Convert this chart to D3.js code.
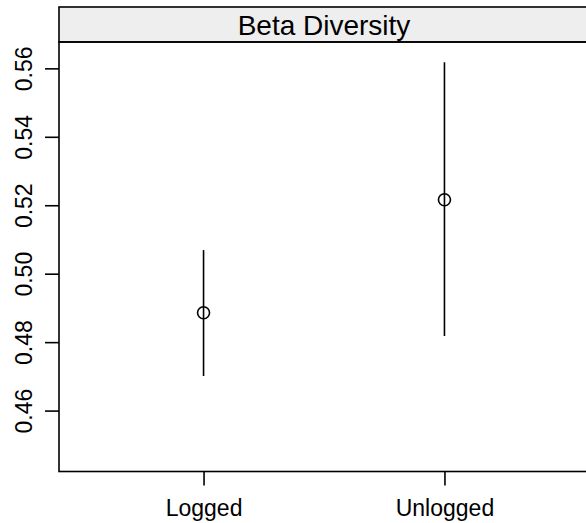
<!DOCTYPE html>
<html>
<head>
<meta charset="utf-8">
<script src="https://cdn.jsdelivr.net/npm/d3@7/dist/d3.min.js"></script>
<style>
  html, body { margin: 0; padding: 0; background: #fff; }
  svg { display: block; font-family: "Liberation Sans", Arial, Helvetica, sans-serif; }
</style>
</head>
<body>
<svg id="chart" width="586" height="523"></svg>
<script>
// Group means with interval bounds
const categories = ["Logged", "Unlogged"];
const means = [0.4886, 0.5216];
const lower = [0.4701, 0.4818];
const upper = [0.5069, 0.5618];
const yTicks = [0.46, 0.48, 0.50, 0.52, 0.54, 0.56];
const stripTitle = "Beta Diversity";

const W = 586, H = 523;
const panel = { left: 59, right: 589, stripTop: 7, top: 42, bottom: 471.5 };
const fontFamily = "\"Liberation Sans\", Arial, sans-serif";

const svg = d3.select("#chart");

const x = d3.scaleLinear()
  .domain([0.4, categories.length + 0.6])
  .range([panel.left, panel.right]);

const y = d3.scaleLinear()
  .domain([0.4422, 0.5677])
  .range([panel.bottom, panel.top]);

// Strip header
svg.append("rect")
  .attr("x", panel.left).attr("y", panel.stripTop)
  .attr("width", panel.right - panel.left)
  .attr("height", panel.top - panel.stripTop)
  .attr("fill", "#eeeeee")
  .attr("stroke", "#000").attr("stroke-width", 1.6);

svg.append("text")
  .attr("x", (panel.left + panel.right) / 2)
  .attr("y", (panel.stripTop + panel.top) / 2 + 10)
  .attr("text-anchor", "middle")
  .attr("font-size", 28)
  .attr("fill", "#000")
  .text(stripTitle);

// Panel border
svg.append("rect")
  .attr("x", panel.left).attr("y", panel.top)
  .attr("width", panel.right - panel.left)
  .attr("height", panel.bottom - panel.top)
  .attr("fill", "none")
  .attr("stroke", "#000").attr("stroke-width", 1.6);

// Y axis
const yAxis = d3.axisLeft(y)
  .tickValues(yTicks)
  .tickSize(14)
  .tickPadding(0)
  .tickFormat(d3.format(".2f"));

const gy = svg.append("g")
  .attr("transform", `translate(${panel.left},0)`)
  .call(yAxis);
gy.select(".domain").remove();
gy.selectAll(".tick line").attr("stroke", "#000").attr("stroke-width", 1.6);
gy.selectAll(".tick text")
  .attr("font-size", 23)
  .attr("fill", "#000")
  .attr("font-family", fontFamily)
  .attr("text-anchor", "middle")
  .attr("dy", null)
  .attr("x", null)
  .attr("transform", "translate(-35,0) rotate(-90)")
  .attr("dominant-baseline", "central");

// X axis
const xAxis = d3.axisBottom(x)
  .tickValues(categories.map((_, i) => i + 1))
  .tickSize(14)
  .tickPadding(0)
  .tickFormat((d) => categories[d - 1]);

const gx = svg.append("g")
  .attr("transform", `translate(0,${panel.bottom})`)
  .call(xAxis);
gx.select(".domain").remove();
gx.selectAll(".tick line").attr("stroke", "#000").attr("stroke-width", 1.6);
gx.selectAll(".tick text")
  .attr("font-size", 23)
  .attr("fill", "#000")
  .attr("font-family", fontFamily)
  .attr("dy", null)
  .attr("y", 44);

// Interval segments
svg.append("g").selectAll("line")
  .data(categories)
  .join("line")
  .attr("x1", (d, i) => x(i + 1)).attr("x2", (d, i) => x(i + 1))
  .attr("y1", (d, i) => y(lower[i])).attr("y2", (d, i) => y(upper[i]))
  .attr("stroke", "#000").attr("stroke-width", 1.6);

// Mean markers
svg.append("g").selectAll("circle")
  .data(categories)
  .join("circle")
  .attr("cx", (d, i) => x(i + 1))
  .attr("cy", (d, i) => y(means[i]))
  .attr("r", 6)
  .attr("fill", "none")
  .attr("stroke", "#000").attr("stroke-width", 1.6);
</script>
</body>
</html>
